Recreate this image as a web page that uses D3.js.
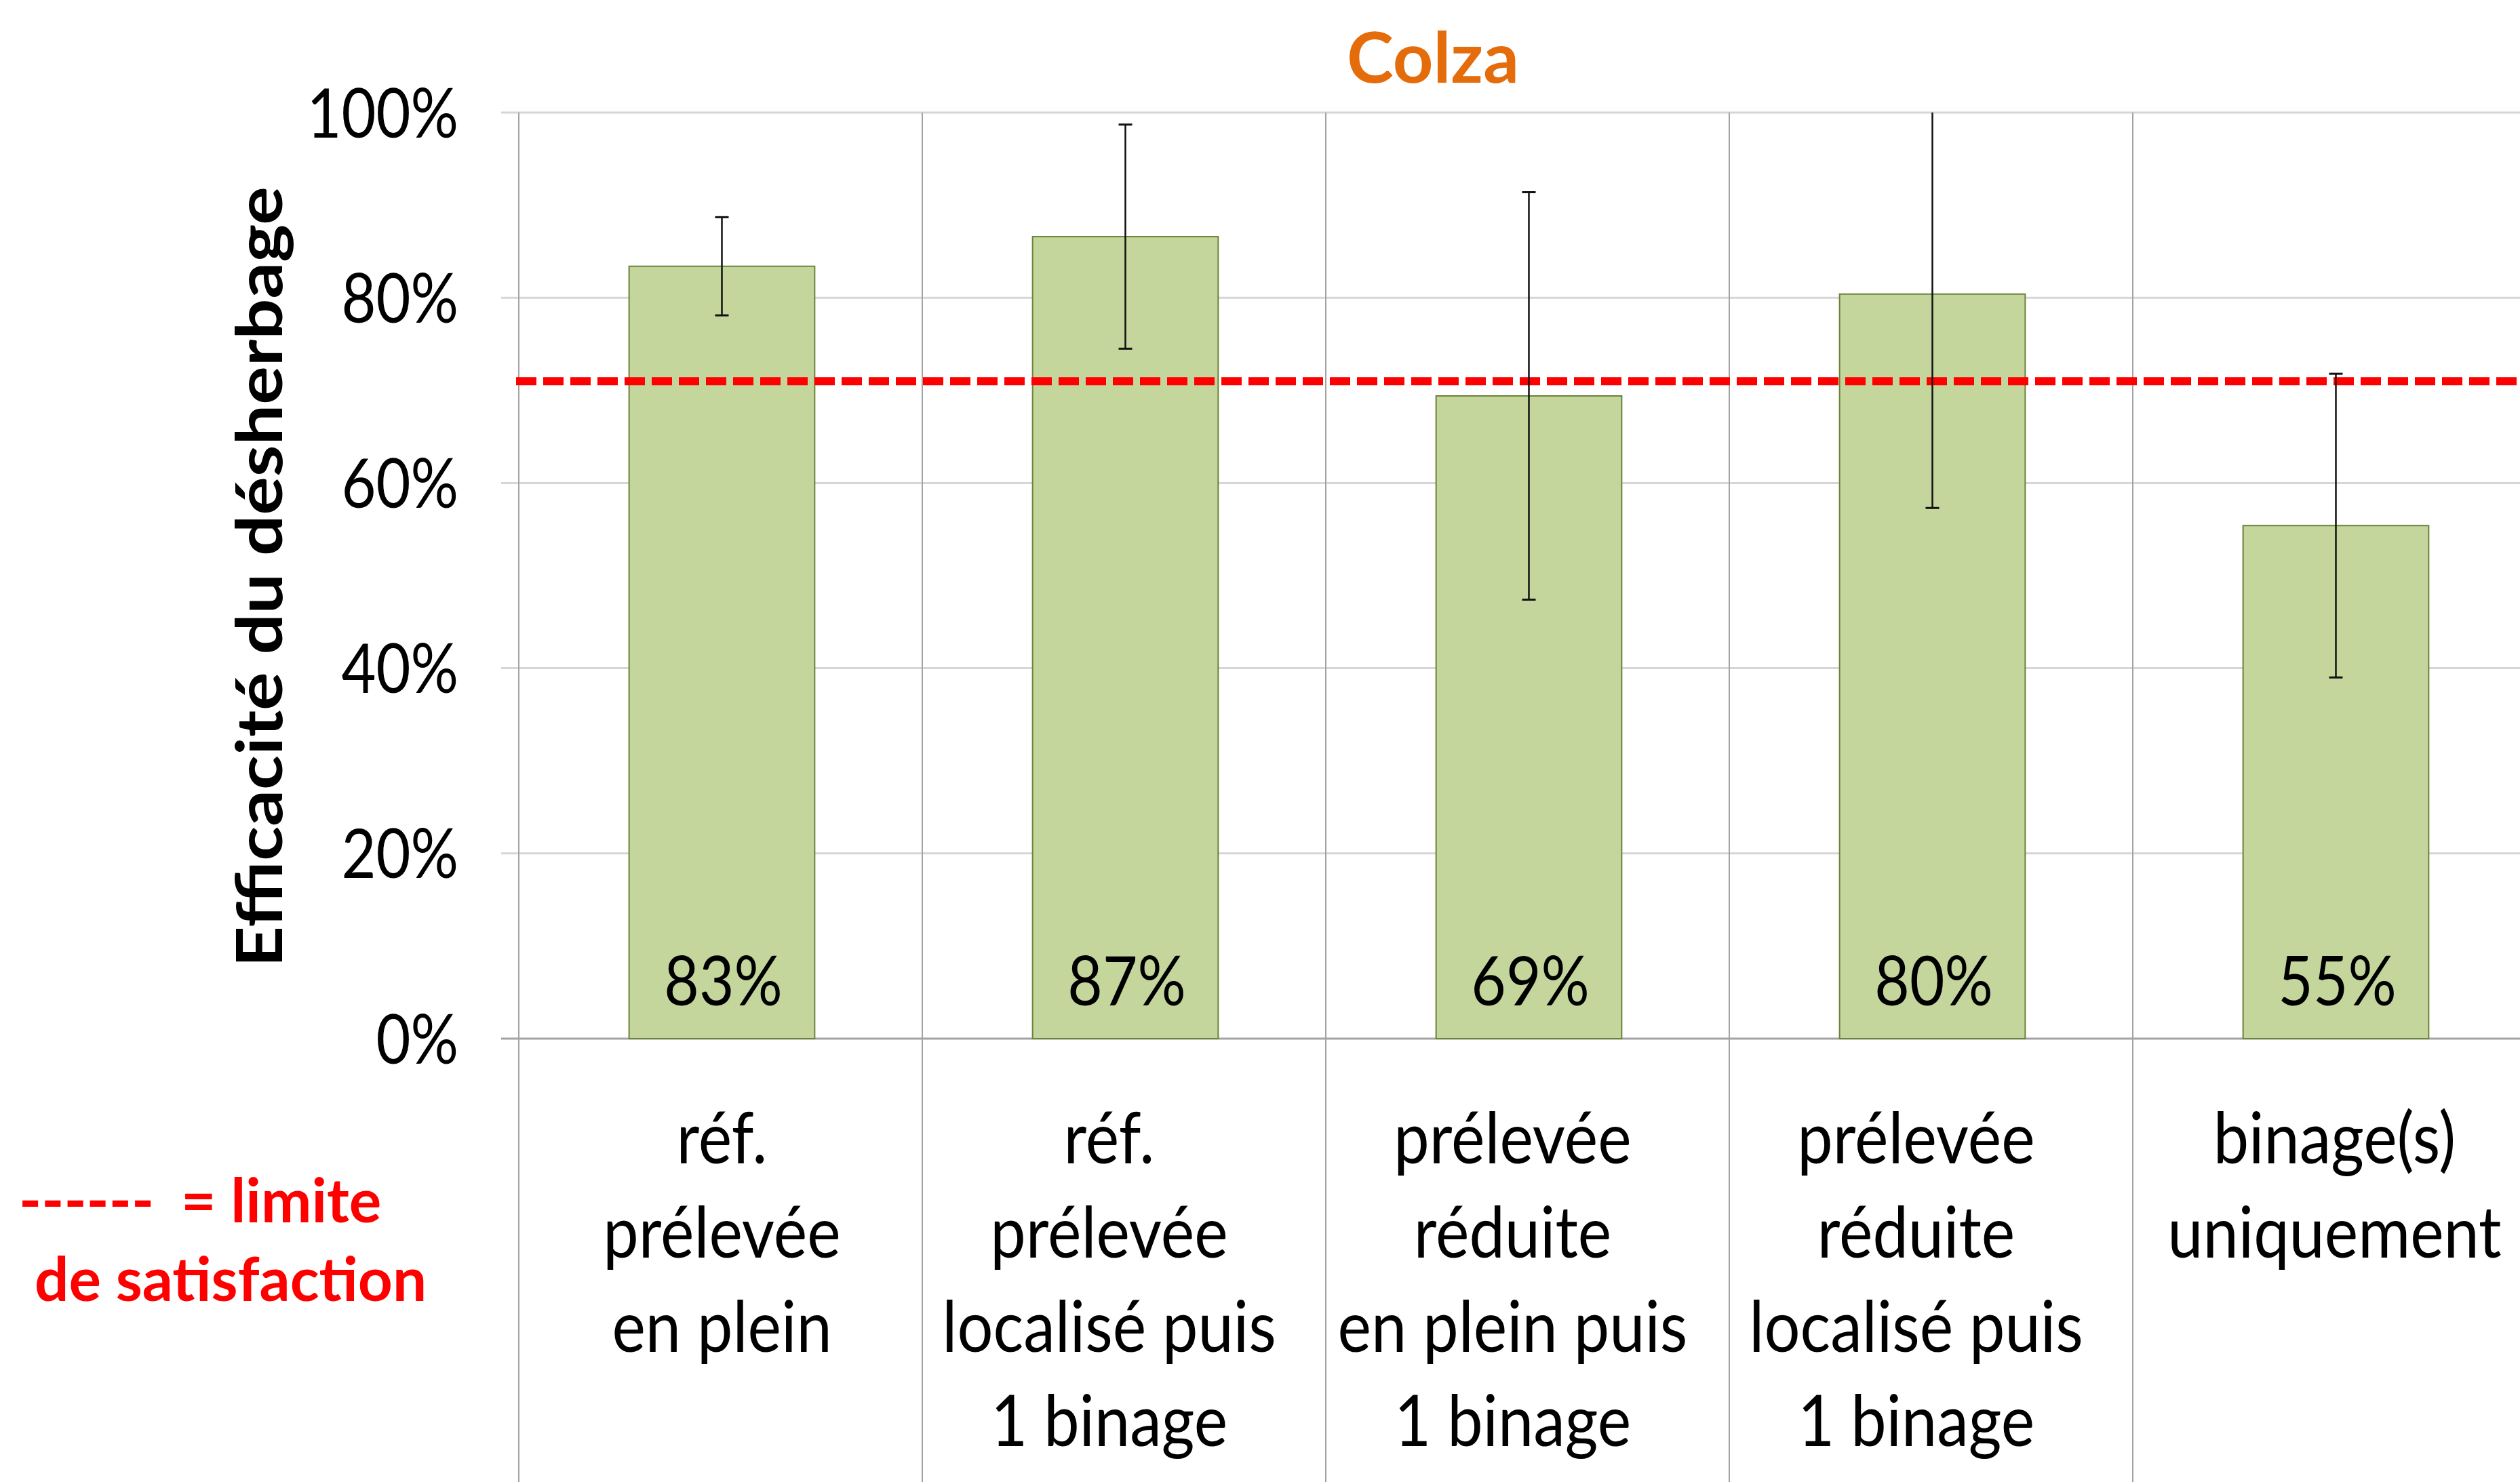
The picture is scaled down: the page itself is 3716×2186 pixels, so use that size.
<!DOCTYPE html>
<html>
<head>
<meta charset="utf-8">
<script src="https://cdn.jsdelivr.net/npm/d3@7"></script>
<style>
  html, body { margin: 0; padding: 0; background: #fff; }
  svg { display: block; font-family: Lato, "Open Sans", sans-serif; }
</style>
</head>
<body>
<div id="chart"></div>
<script>
// data
var categories = ["ref_plein", "ref_local", "red_plein", "red_local", "binage"];
var categoryLabels = [
	["réf.", "prélevée", "en plein"],
	["réf.", "prélevée", "localisé puis", "1 binage"],
	["prélevée", "réduite", "en plein puis", "1 binage"],
	["prélevée", "réduite", "localisé puis", "1 binage"],
	["binage(s)", "uniquement"]
];
var efficacite = [83.4, 86.6, 69.4, 80.4, 55.4];
var ecart = [5.3, 12.1, 22.0, 23.1, 16.4];
var limite = 71;
var yTicks = [0, 20, 40, 60, 80, 100];

var config = {
	width: 3716, height: 2186,
	left: 765, top: 166, bottom: 1532, right: 3740,
	squeeze: 0.88,
	labelSqueeze: 0.9,
	labelShift: [2, -22, -22, -22, 0]
};

var svg = d3.select("#chart").append("svg")
	.attr("width", config.width)
	.attr("height", config.height)
	.style("overflow", "hidden");

var x = d3.scaleBand()
	.domain(categories)
	.range([config.left, config.right])
	.paddingInner(0.54)
	.paddingOuter(0.27);

var y = d3.scaleLinear()
	.domain([0, 100])
	.range([config.bottom, config.top]);

svg.append("clipPath").attr("id", "plotClip")
	.append("rect")
	.attr("x", config.left).attr("y", config.top)
	.attr("width", config.right - config.left)
	.attr("height", config.bottom - config.top);

// horizontal gridlines (with small outer tick)
svg.append("g").selectAll("line")
	.data(yTicks.filter(function(t) { return t > 0; }))
	.join("line")
	.attr("x1", config.left - 26)
	.attr("x2", config.right)
	.attr("y1", function(d) { return y(d); })
	.attr("y2", function(d) { return y(d); })
	.attr("stroke", "#d6d6d6")
	.attr("stroke-width", 3);

// category separators, running down through the label area
var step = x.step();
svg.append("g").selectAll("line")
	.data(categories)
	.join("line")
	.attr("x1", function(d) { return x(d) + x.bandwidth() / 2 - step / 2; })
	.attr("x2", function(d) { return x(d) + x.bandwidth() / 2 - step / 2; })
	.attr("y1", config.top)
	.attr("y2", config.height)
	.attr("stroke", "#a3a3a3")
	.attr("stroke-width", 2);

// zero line
svg.append("line")
	.attr("x1", config.left - 26).attr("x2", config.right)
	.attr("y1", y(0)).attr("y2", y(0))
	.attr("stroke", "#a3a3a3")
	.attr("stroke-width", 3);

// y axis labels
var yAxis = svg.append("g")
	.attr("transform", "translate(" + config.left + ",0)")
	.call(d3.axisLeft(y).tickValues(yTicks).tickSize(0).tickPadding(101)
		.tickFormat(function(d) { return d + "%"; }));
yAxis.select(".domain").remove();
yAxis.selectAll("text")
	.attr("dy", "0.36em")
	.attr("transform", "scale(" + config.squeeze + ",1)")
	.style("font-family", "Lato")
	.style("font-size", "100px")
	.attr("fill", "#000");

// bars
svg.append("g").selectAll("rect")
	.data(efficacite)
	.join("rect")
	.attr("x", function(d, i) { return x(categories[i]) + 2; })
	.attr("y", function(d) { return y(d); })
	.attr("width", x.bandwidth())
	.attr("height", function(d) { return y(0) - y(d); })
	.attr("fill", "#c4d69c")
	.attr("stroke", "#6b8339")
	.attr("stroke-width", 2);

// limit line
svg.append("line")
	.attr("x1", config.left - 4).attr("x2", config.right)
	.attr("y1", y(limite)).attr("y2", y(limite))
	.attr("stroke", "#ff0000")
	.attr("stroke-width", 12)
	.attr("stroke-dasharray", "30,10");

// error bars
var err = svg.append("g").attr("clip-path", "url(#plotClip)");
efficacite.forEach(function(v, i) {
	var cx = x(categories[i]) + x.bandwidth() / 2 + 2;
	var lo = v - ecart[i], hi = v + ecart[i];
	err.append("line")
		.attr("x1", cx).attr("x2", cx)
		.attr("y1", y(lo)).attr("y2", y(hi))
		.attr("stroke", "#111").attr("stroke-width", 2.5);
	[lo, hi].forEach(function(e) {
		err.append("line")
			.attr("x1", cx - 10).attr("x2", cx + 10)
			.attr("y1", y(e)).attr("y2", y(e))
			.attr("stroke", "#111").attr("stroke-width", 3);
	});
});

// value labels at the foot of the bars
svg.append("g").selectAll("text")
	.data(efficacite)
	.join("text")
	.attr("transform", function(d, i) {
		return "translate(" + (x(categories[i]) + x.bandwidth() / 2 + 4) + "," + (y(0) - 49) + ") scale(" + config.squeeze + ",1)";
	})
	.attr("text-anchor", "middle")
	.style("font-size", "101px")
	.attr("fill", "#000")
	.text(function(d) { return Math.round(d) + "%"; });

// category labels
categoryLabels.forEach(function(lines, i) {
	var cx = x(categories[i]) + x.bandwidth() / 2 + config.labelShift[i];
	lines.forEach(function(line, j) {
		svg.append("text")
			.attr("transform", "translate(" + cx + "," + (1716 + j * 139) + ") scale(" + config.labelSqueeze + ",1)")
			.attr("text-anchor", "middle")
			.style("font-size", "104px")
			.attr("fill", "#000")
			.text(line);
	});
});

// title
svg.append("text")
	.attr("transform", "translate(2113,122)")
	.attr("text-anchor", "middle")
	.style("font-size", "104px")
	.style("font-weight", "bold")
	.attr("fill", "#e46c0a")
	.text("Colza");

// y axis title
svg.append("text")
	.attr("transform", "translate(416," + ((config.top + config.bottom) / 2 + 2) + ") scale(" + config.squeeze + ",1) rotate(-90)")
	.attr("text-anchor", "middle")
	.style("font-size", "106px")
	.style("font-weight", "bold")
	.attr("fill", "#000")
	.text("Efficacité du désherbage");

// legend for the dashed line
var legend = svg.append("g")
	.attr("fill", "#ff0000")
	.style("font-size", "89px")
	.style("font-weight", "bold");
legend.append("text").attr("x", 28).attr("y", 1803).text("------");
legend.append("text").attr("x", 267).attr("y", 1803).text("= limite");
legend.append("text").attr("x", 51).attr("y", 1919).text("de satisfaction");
</script>
</body>
</html>
